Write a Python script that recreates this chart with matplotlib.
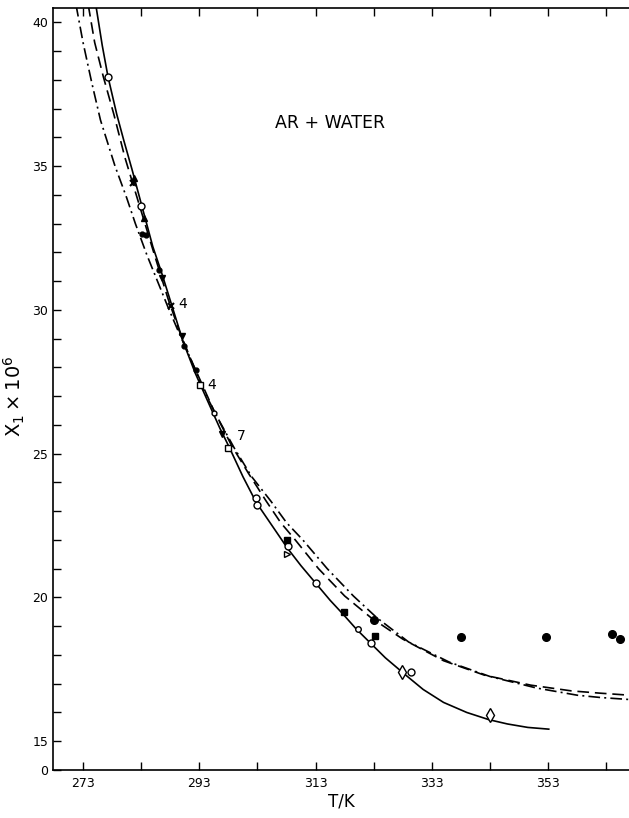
import matplotlib
matplotlib.use("Agg")
import matplotlib.pyplot as plt
import numpy as np

# curves (T in K, X1 x 1e6)
solid_T = [275.2, 276.3, 277.3, 278.8, 280.0, 281.4, 283.0, 285.0, 286.5, 288.2, 290.2, 292.3,
           294.5, 296.5, 298.2, 300.5, 302.8, 305.5, 308.2, 310.5, 313.0, 315.5, 317.8, 320.0,
           322.0, 325.0, 328.5, 331.5, 335.0, 339.0, 342.8, 346.0, 349.5, 353.1]
solid_X = [40.6, 39.2, 38.1, 36.8, 35.9, 34.9, 33.7, 32.2, 31.3, 30.2, 28.9, 27.8,
           26.8, 25.9, 25.2, 24.2, 23.3, 22.5, 21.7, 21.1, 20.5, 19.9, 19.4, 18.9,
           18.5, 17.9, 17.3, 16.8, 16.35, 16.0, 15.75, 15.6, 15.48, 15.42]

dash_T = [273.9, 275.0, 276.5, 278.3, 280.2, 282.6, 285.0, 287.6, 289.5, 291.5, 293.5, 295.5,
          298.5, 301.5, 304.5, 307.0, 309.5, 313.5, 318.0, 322.5, 328.0, 335.0, 342.0,
          350.0, 357.0, 362.0, 367.0]
dash_X = [40.6, 39.3, 38.1, 36.8, 35.3, 33.7, 32.1, 30.4, 29.3, 28.3, 27.4, 26.5,
          25.3, 24.3, 23.35, 22.6, 22.0, 21.0, 20.05, 19.3, 18.55, 17.8, 17.3,
          16.95, 16.75, 16.67, 16.6]

dd_T = [271.8, 273.0, 274.5, 276.0, 278.5, 280.5, 282.0, 284.0, 285.8, 287.6, 289.5, 291.5,
        294.0, 296.0, 299.0, 302.0, 305.3, 308.0, 310.8, 315.0, 319.5, 323.5, 329.0,
        336.0, 343.0, 351.0, 358.0, 362.0, 367.0]
dd_X = [40.6, 39.3, 37.9, 36.6, 35.0, 33.9, 33.0, 31.9, 31.0, 30.1, 29.2, 28.3,
        27.1, 26.3, 25.2, 24.2, 23.35, 22.6, 22.0, 21.0, 20.05, 19.3, 18.45,
        17.75, 17.25, 16.85, 16.6, 16.52, 16.45]

# experimental points
open_circ_T = [277.3, 283.0, 295.6, 302.8, 302.9, 308.2, 313.0, 320.3, 322.6, 329.4]
open_circ_X = [38.1, 33.6, 26.4, 23.45, 23.2, 21.8, 20.5, 18.9, 18.4, 17.4]
open_circ_s = [5, 5, 3.5, 5, 5, 5, 5, 4, 5, 5]
fill_circ_T = [283.1, 283.8, 286.0, 290.3, 292.4, 323.1, 338.0, 352.6, 363.9, 365.3]
fill_circ_X = [32.65, 32.6, 31.4, 28.75, 27.9, 19.2, 18.63, 18.63, 18.73, 18.55]
fill_sq_T = [308.0, 317.8, 323.3]
fill_sq_X = [22.0, 19.5, 18.65]
open_sq_T = [293.1, 298.0]
open_sq_X = [27.4, 25.2]
tri_dn_T = [286.6, 290.0, 296.9]
tri_dn_X = [31.1, 29.1, 25.7]
tri_up_T = [283.5, 281.7]
tri_up_X = [33.2, 34.6]
cross_T = [281.6, 288.1]
cross_X = [34.4, 30.15]
diam_T = [327.9, 343.0]
diam_X = [17.4, 15.9]
tri_open_T = [308.0]
tri_open_X = [21.5]

point_labels = ["4", "4", "7"]
label_T = [289.4, 294.4, 299.4]
label_X = [30.2, 27.4, 25.6]

x_major = [273, 293, 313, 333, 353]
x_minor = [283, 303, 323, 343, 363]
y_major = [15, 20, 25, 30, 35, 40]

fig = plt.figure(figsize=(6.29, 8.18), dpi=100)
ax = fig.add_axes([0.0843, 0.0587, 0.9157, 0.9313])

lw = 1.2
ax.plot(solid_T, solid_X, color="black", lw=lw)
ax.plot(dash_T, dash_X, color="black", lw=lw, dashes=(7, 3.5))
ax.plot(dd_T, dd_X, color="black", lw=lw, dashes=(7, 2.5, 1.2, 2.5))

mk = dict(color="black", linestyle="none", markeredgewidth=1.0, zorder=3)
for t, x, s in zip(open_circ_T, open_circ_X, open_circ_s):
    ax.plot(t, x, marker="o", ms=s, markerfacecolor="white", **mk)
ax.plot(fill_circ_T[:5], fill_circ_X[:5], marker="o", ms=3.5, **mk)
ax.plot(fill_circ_T[5:], fill_circ_X[5:], marker="o", ms=5.5, **mk)
ax.plot(fill_sq_T, fill_sq_X, marker="s", ms=4.5, **mk)
ax.plot(open_sq_T, open_sq_X, marker="s", ms=4, markerfacecolor="white", **mk)
ax.plot(tri_dn_T, tri_dn_X, marker="v", ms=4, **mk)
ax.plot(tri_up_T, tri_up_X, marker="^", ms=4, **mk)
ax.plot(cross_T, cross_X, marker="x", ms=4, markeredgewidth=1.5, color="black", linestyle="none")
ax.plot(diam_T, diam_X, marker="d", ms=7, markerfacecolor="white", **mk)
ax.plot(tri_open_T, tri_open_X, marker=">", ms=5, markerfacecolor="white", **mk)

for lab, t, x in zip(point_labels, label_T, label_X):
    ax.text(t, x, lab, fontsize=10, va="center", ha="left")

ax.text(315.5, 36.5, "AR + WATER", fontsize=12.5, ha="center", va="center")

ax.set_xlim(267.84, 366.9)
ax.set_ylim(14, 40.49)

ax.set_xticks(x_major)
ax.set_xticks(x_minor, minor=True)
ax.set_yticks([14] + y_major)
ax.set_yticklabels(["0"] + [str(v) for v in y_major])
ax.set_yticks([v for v in range(16, 41) if v % 5 != 0], minor=True)
ax.tick_params(axis="both", which="both", direction="in", length=6, width=1,
               labelsize=9, top=True, right=False)
ax.tick_params(axis="x", pad=5)
ax.spines["right"].set_visible(False)
for s in ["left", "bottom", "top"]:
    ax.spines[s].set_linewidth(1.2)

ax.set_xlabel("T/K", fontsize=12, labelpad=2)
ax.set_ylabel(r"$\mathregular{X_1\times 10^6}$", fontsize=14)
ax.yaxis.set_label_coords(-0.045, 0.49)

fig.savefig("out.png", dpi=100)
